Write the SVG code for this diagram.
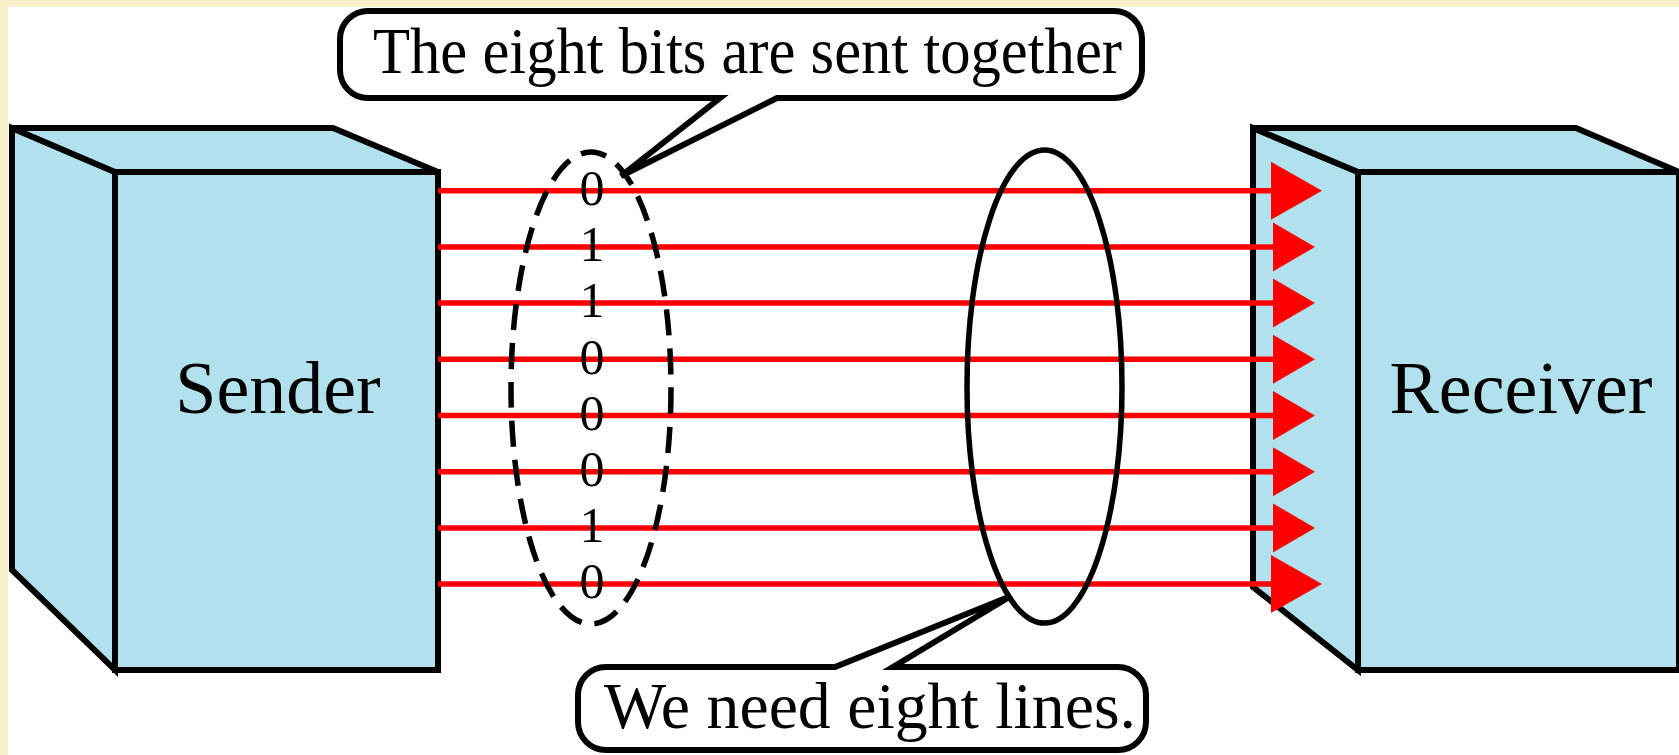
<svg xmlns="http://www.w3.org/2000/svg" width="1679" height="755" viewBox="0 0 1679 755">
  <defs>
    <style>
      .box { fill: #b2e1ee; stroke: #000; stroke-width: 6; stroke-linejoin: miter; }
      .wire { stroke: #ff0000; stroke-width: 5.5; fill: none; }
      .head { fill: #ff0000; stroke: none; }
      .call { fill: #fff; stroke: #000; stroke-width: 6; stroke-linejoin: miter; stroke-miterlimit: 4; }
      .txt { font-family: "Liberation Serif", "Times New Roman", serif; fill: #000; }
      .bit { font-family: "Liberation Serif", "Times New Roman", serif; font-size: 50px; text-anchor: middle; fill: #000; }
      .ring { fill: none; stroke: #000; stroke-width: 5.5; }
    </style>
  </defs>

  <rect x="0" y="0" width="1679" height="755" fill="#f7f0c9"/>
  <rect x="8" y="7" width="1671" height="748" fill="#ffffff"/>

  <g id="sender">
    <polygon class="box" points="12,128 115,172 115,670 12,570"/>
    <polygon class="box" points="12,128 333,128 438,172 115,172"/>
    <rect class="box" x="115" y="172" width="323" height="498"/>
    <text class="txt" x="278" y="413" font-size="74" text-anchor="middle">Sender</text>
  </g>

  <g id="receiver">
    <polygon class="box" points="1253,128 1358,172 1358,670 1253,587"/>
    <polygon class="box" points="1253,128 1576,128 1679,172 1358,172"/>
    <rect class="box" x="1358" y="172" width="321" height="498"/>
    <text class="txt" x="1521" y="413" font-size="74" text-anchor="middle">Receiver</text>
  </g>

  <g id="connectors">
    <line class="wire" x1="438" y1="190.7" x2="1275" y2="190.7"/>
    <line class="wire" x1="438" y1="246.9" x2="1275" y2="246.9"/>
    <line class="wire" x1="438" y1="303.1" x2="1275" y2="303.1"/>
    <line class="wire" x1="438" y1="359.3" x2="1275" y2="359.3"/>
    <line class="wire" x1="438" y1="415.5" x2="1275" y2="415.5"/>
    <line class="wire" x1="438" y1="471.7" x2="1275" y2="471.7"/>
    <line class="wire" x1="438" y1="527.9" x2="1275" y2="527.9"/>
    <line class="wire" x1="438" y1="584.1" x2="1275" y2="584.1"/>
    <polygon class="head" points="1271,161.7 1322,190.7 1271,219.7"/>
    <polygon class="head" points="1273,222.4 1315,246.9 1273,271.4"/>
    <polygon class="head" points="1273,278.6 1315,303.1 1273,327.6"/>
    <polygon class="head" points="1273,334.8 1315,359.3 1273,383.8"/>
    <polygon class="head" points="1273,391 1315,415.5 1273,440"/>
    <polygon class="head" points="1273,447.2 1315,471.7 1273,496.2"/>
    <polygon class="head" points="1273,503.4 1315,527.9 1273,552.4"/>
    <polygon class="head" points="1271,555.1 1322,584.1 1271,613.1"/>
  </g>

  <g id="bits">
    <ellipse class="ring" cx="591" cy="388" rx="80" ry="236" stroke-dasharray="26 13"/>
    <text class="bit" x="592" y="205">0</text>
    <text class="bit" x="592" y="261.2">1</text>
    <text class="bit" x="592" y="317.4">1</text>
    <text class="bit" x="592" y="373.6">0</text>
    <text class="bit" x="592" y="429.8">0</text>
    <text class="bit" x="592" y="486">0</text>
    <text class="bit" x="592" y="542.2">1</text>
    <text class="bit" x="592" y="598.4">0</text>
  </g>

  <g id="lines-group">
    <ellipse class="ring" cx="1044.5" cy="386.5" rx="77.5" ry="236.5"/>
  </g>

  <g id="callout-top">
    <path class="call" d="M 368,11 H 1114 A 28 28 0 0 1 1142 39 V 70 A 28 28 0 0 1 1114 98 H 777 L 621 176 L 720 98 H 368 A 28 28 0 0 1 340 70 V 39 A 28 28 0 0 1 368 11 Z"/>
    <text class="txt" x="373" y="73" font-size="65" textLength="749" lengthAdjust="spacingAndGlyphs">The eight bits are sent together</text>
  </g>

  <g id="callout-bottom">
    <path class="call" d="M 606,667 H 835 L 1011 596 L 893 667 H 1118 A 28 28 0 0 1 1146 695 V 722 A 28 28 0 0 1 1118 750 H 606 A 28 28 0 0 1 578 722 V 695 A 28 28 0 0 1 606 667 Z"/>
    <text class="txt" x="604" y="728" font-size="66" textLength="532" lengthAdjust="spacingAndGlyphs">We need eight lines.</text>
  </g>
</svg>
